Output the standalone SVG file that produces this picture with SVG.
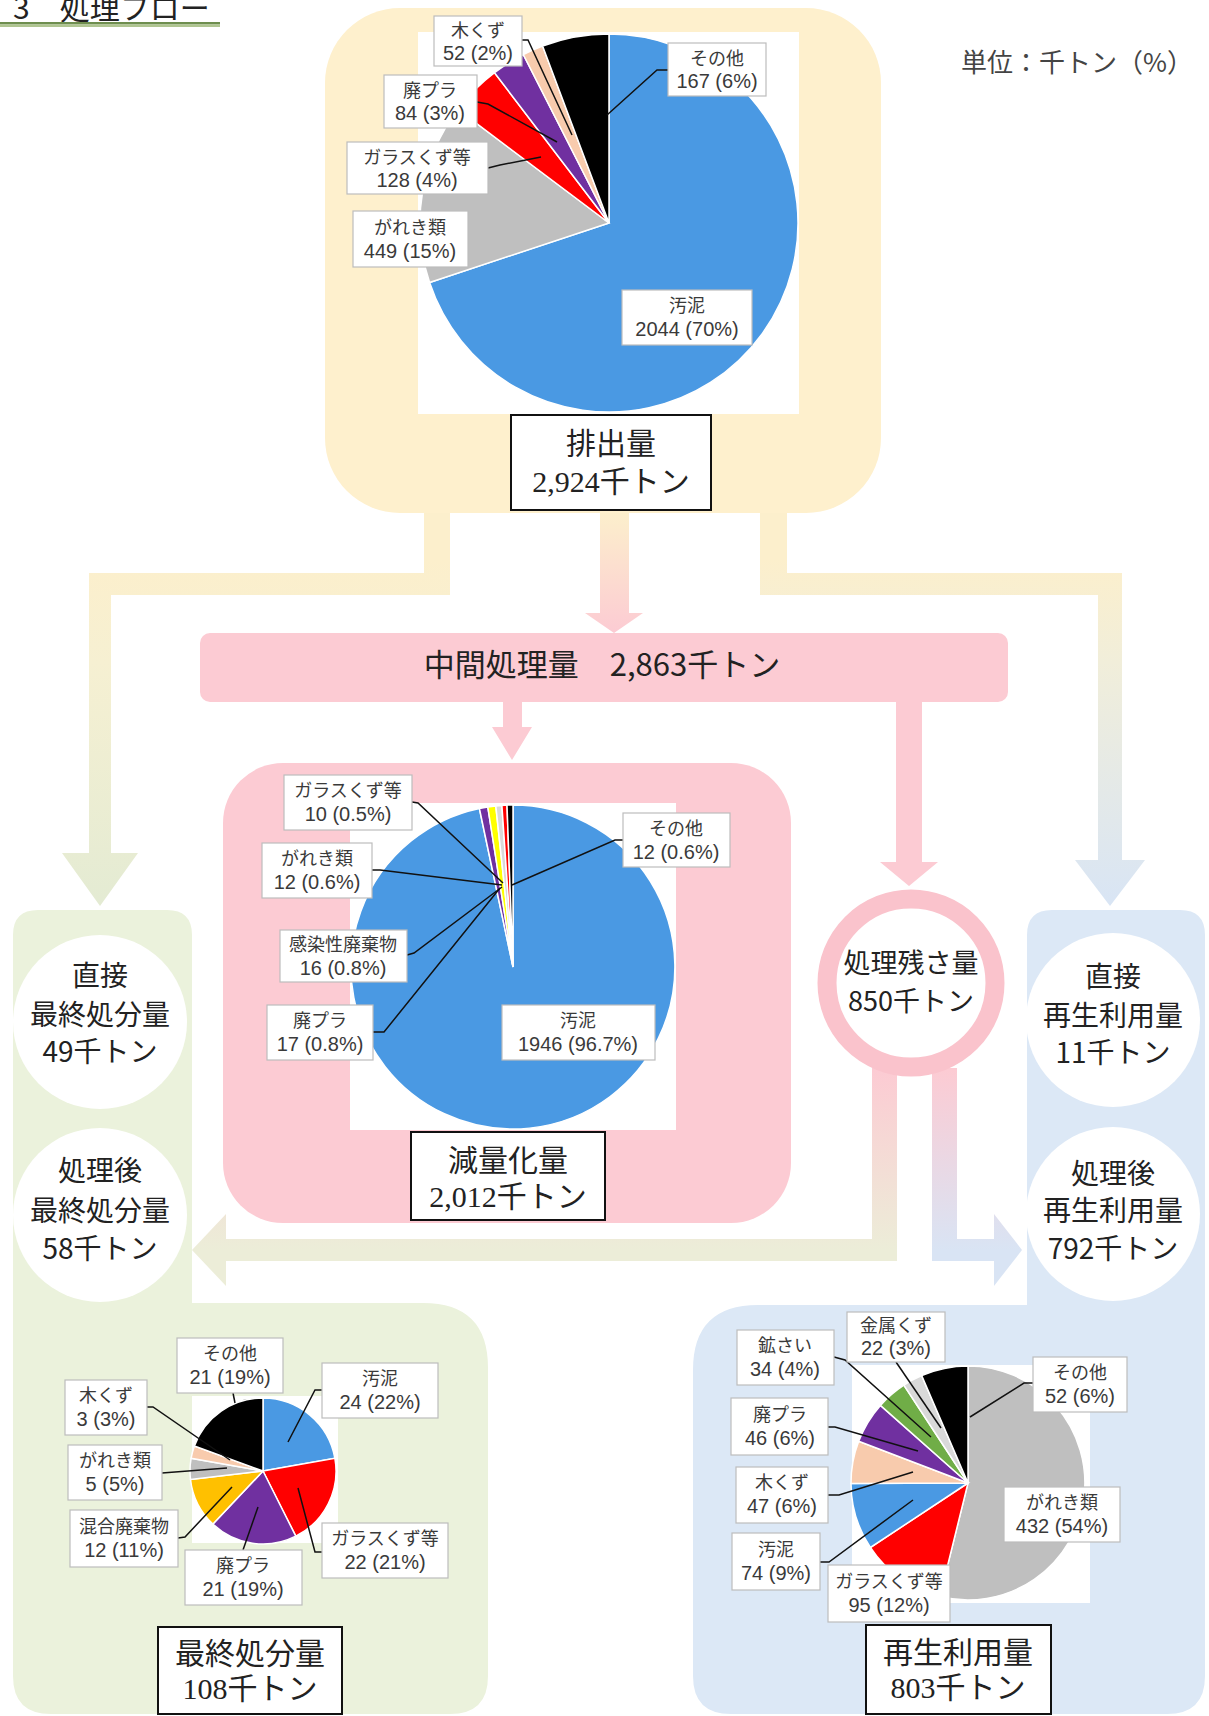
<svg xmlns="http://www.w3.org/2000/svg" width="1209" height="1716" viewBox="0 0 1209 1716">
<style>
.lb{fill:#fff;stroke:#BDBDBD;stroke-width:1.2}
.t1{font-family:"Liberation Sans","Noto Sans CJK JP",sans-serif;font-size:18px;fill:#3a3a3a;text-anchor:middle}
.t2{font-family:"Liberation Sans","Noto Sans CJK JP",sans-serif;font-size:20px;fill:#3a3a3a;text-anchor:middle}
.ld{fill:none;stroke:#111;stroke-width:1.5}
.sl{stroke:#fff;stroke-width:1.5}
.tb{fill:#fff;stroke:#111;stroke-width:2}
.hd{font-family:"Noto Sans CJK JP",sans-serif;font-size:30px;fill:#222;text-anchor:middle}
.hn{font-family:"Liberation Serif","Noto Sans CJK JP",serif;font-size:30px;fill:#222;text-anchor:middle}
.ct{font-family:"Noto Sans CJK JP",sans-serif;font-size:28px;fill:#222;text-anchor:middle}
.blue{fill:#4A99E3}.gray{fill:#BFBFBF}.red{fill:#FF0000}.pur{fill:#7030A0}.peach{fill:#F8CBAD}.blk{fill:#000}.gold{fill:#FFC000}.yel{fill:#FFFF00}.grn{fill:#70AD47}.lgray{fill:#D9D9D9}
.pink{fill:#FCCBD3}
</style>
<defs>
<linearGradient id="gL" gradientUnits="userSpaceOnUse" x1="0" y1="560" x2="0" y2="900"><stop offset="0" stop-color="#FCEFCC"/><stop offset="0.3" stop-color="#F6F0D2"/><stop offset="1" stop-color="#E4EBD3"/></linearGradient>
<linearGradient id="gR" gradientUnits="userSpaceOnUse" x1="0" y1="560" x2="0" y2="900"><stop offset="0" stop-color="#FCEFCC"/><stop offset="0.3" stop-color="#F1EEDA"/><stop offset="1" stop-color="#D9E5F4"/></linearGradient>
<linearGradient id="gC" gradientUnits="userSpaceOnUse" x1="0" y1="513" x2="0" y2="633"><stop offset="0" stop-color="#FCEFCC"/><stop offset="1" stop-color="#FCCBD3"/></linearGradient>
<linearGradient id="gLB" gradientUnits="userSpaceOnUse" x1="0" y1="1070" x2="0" y2="1250"><stop offset="0" stop-color="#FCCBD3"/><stop offset="1" stop-color="#ECEDD8"/></linearGradient>
<linearGradient id="gRB" gradientUnits="userSpaceOnUse" x1="0" y1="1070" x2="0" y2="1250"><stop offset="0" stop-color="#FCCBD3"/><stop offset="1" stop-color="#D9E4F4"/></linearGradient>
</defs>
<rect width="1209" height="1716" fill="#fff"/>

<g id="title">
<text x="13" y="19" style="font-family:'Noto Sans CJK JP',sans-serif;font-size:30px;fill:#222">3　処理フロー</text>
<rect x="0" y="22" width="220" height="2.5" fill="#6E8E4E"/>
<rect x="0" y="24.5" width="220" height="2.5" fill="#AFC590"/>
</g>
<g id="unit">
<text x="1193" y="72" style="font-family:'Noto Sans CJK JP',sans-serif;font-size:26px;fill:#444;text-anchor:end">単位：千トン（%）</text>
</g>

<g id="connectors">
<path d="M424,505 L450,505 L450,595 L111,595 L111,853 L138,853 L100,906 L62,853 L89,853 L89,573 L424,573 Z" fill="url(#gL)"/>
<path d="M760,505 L787,505 L787,573 L1122,573 L1122,860 L1145,860 L1110,906 L1075,860 L1098,860 L1098,595 L760,595 Z" fill="url(#gR)"/>
<path d="M600,505 L629,505 L629,613 L643,613 L614,633 L585,613 L600,613 Z" fill="url(#gC)"/>
<path d="M503,700 L522,700 L522,727 L532,727 L512,760 L492,727 L503,727 Z" class="pink"/>
<path d="M896,700 L922,700 L922,862 L938,862 L909,886 L880,862 L896,862 Z" class="pink"/>
<path d="M872,1068 L897,1068 L897,1261 L226,1261 L226,1286 L192,1250 L226,1214 L226,1239 L872,1239 Z" fill="url(#gLB)"/>
<path d="M932,1068 L957,1068 L957,1239 L994,1239 L994,1214 L1022,1250 L994,1286 L994,1261 L932,1261 Z" fill="url(#gRB)"/>
</g>

<g id="node-haishutsu">
<rect x="325" y="8" width="556" height="505" rx="75" fill="#FEF0CD"/>
<rect x="418" y="32" width="381" height="382" fill="#fff"/>
<path class="blue sl" d="M609,223 L609,34 A189,189 0 1 1 429.6,282.5 Z"/>
<path class="gray sl" d="M609,223 L429.6,282.5 A189,189 0 0 1 457.9,109.4 Z"/>
<path class="red sl" d="M609,223 L457.9,109.4 A189,189 0 0 1 494.5,72.7 Z"/>
<path class="pur sl" d="M609,223 L494.5,72.7 A189,189 0 0 1 523.3,54.5 Z"/>
<path class="peach sl" d="M609,223 L523.3,54.5 A189,189 0 0 1 542.6,46 Z"/>
<path class="blk sl" d="M609,223 L542.6,46 A189,189 0 0 1 609,34 Z"/>
<polyline class="ld" points="522,40 528,40 572,135"/>
<polyline class="ld" points="477,102 488,104 557,142"/>
<polyline class="ld" points="488,168 500,165 541,157"/>
<polyline class="ld" points="668,70 657,70 607,115"/>
<rect class="lb" x="434" y="16" width="88" height="50"/><text class="t1" x="478" y="37">木くず</text><text class="t2" x="478" y="60">52 (2%)</text>
<rect class="lb" x="384" y="75" width="93" height="53"/><text class="t1" x="430" y="97">廃プラ</text><text class="t2" x="430" y="120">84 (3%)</text>
<rect class="lb" x="347" y="142" width="141" height="52"/><text class="t1" x="417" y="164">ガラスくず等</text><text class="t2" x="417" y="187">128 (4%)</text>
<rect class="lb" x="353" y="211" width="115" height="56"/><text class="t1" x="410" y="234">がれき類</text><text class="t2" x="410" y="258">449 (15%)</text>
<rect class="lb" x="668" y="43" width="98" height="53"/><text class="t1" x="717" y="65">その他</text><text class="t2" x="717" y="88">167 (6%)</text>
<rect class="lb" x="622" y="290" width="130" height="55"/><text class="t1" x="687" y="312">汚泥</text><text class="t2" x="687" y="336">2044 (70%)</text>
<rect class="tb" x="511" y="415" width="200" height="95"/>
<text class="hd" x="611" y="454">排出量</text>
<text class="hn" x="611" y="492">2,924千トン</text>
</g>

<g id="node-chukan">
<rect x="200" y="633" width="808" height="69" rx="10" class="pink"/>
<text x="602" y="676" style="font-family:'Noto Sans CJK JP',sans-serif;font-size:31px;fill:#222;text-anchor:middle">中間処理量　2,863千トン</text>
</g>

<g id="node-genryo">
<rect x="223" y="763" width="568" height="460" rx="60" class="pink"/>
<rect x="350" y="803" width="326" height="327" fill="#fff"/>
<path class="blue sl" d="M513,967 L513,805 A162,162 0 1 1 479.4,808.5 Z"/>
<path class="pur sl" d="M513,967 L479.4,808.5 A162,162 0 0 1 487.8,807 Z"/>
<path class="yel sl" d="M513,967 L487.8,807 A162,162 0 0 1 495.8,805.9 Z"/>
<path class="lgray sl" d="M513,967 L495.8,805.9 A162,162 0 0 1 501.9,805.4 Z"/>
<path class="red sl" d="M513,967 L501.9,805.4 A162,162 0 0 1 507,805.1 Z"/>
<path class="blk sl" d="M513,967 L507,805.1 A162,162 0 0 1 513,805 Z"/>
<polyline class="ld" points="412,802 418,803 503,883"/>
<polyline class="ld" points="623,840 615,840 512,885"/>
<polyline class="ld" points="372,870 380,870 502,885"/>
<polyline class="ld" points="407,955 414,953 502,887"/>
<polyline class="ld" points="373,1032 384,1032 500,888"/>
<rect class="lb" x="284" y="775" width="128" height="55"/><text class="t1" x="348" y="797">ガラスくず等</text><text class="t2" x="348" y="821">10 (0.5%)</text>
<rect class="lb" x="623" y="813" width="107" height="54"/><text class="t1" x="676" y="835">その他</text><text class="t2" x="676" y="859">12 (0.6%)</text>
<rect class="lb" x="262" y="843" width="110" height="55"/><text class="t1" x="317" y="865">がれき類</text><text class="t2" x="317" y="889">12 (0.6%)</text>
<rect class="lb" x="280" y="930" width="127" height="52"/><text class="t1" x="343" y="951">感染性廃棄物</text><text class="t2" x="343" y="975">16 (0.8%)</text>
<rect class="lb" x="267" y="1005" width="106" height="55"/><text class="t1" x="320" y="1027">廃プラ</text><text class="t2" x="320" y="1051">17 (0.8%)</text>
<rect class="lb" x="502" y="1005" width="153" height="55"/><text class="t1" x="578" y="1027">汚泥</text><text class="t2" x="578" y="1051">1946 (96.7%)</text>
<rect class="tb" x="411" y="1132" width="194" height="88"/>
<text class="hd" x="508" y="1171">減量化量</text>
<text class="hn" x="508" y="1207">2,012千トン</text>
</g>

<g id="node-zansa">
<circle cx="911" cy="983" r="84" fill="#fff" stroke="#FAC3CC" stroke-width="19"/>
<text x="911" y="973" style="font-family:'Noto Sans CJK JP',sans-serif;font-size:27px;fill:#222;text-anchor:middle">処理残さ量</text>
<text x="911" y="1011" style="font-family:'Noto Sans CJK JP',sans-serif;font-size:27px;fill:#222;text-anchor:middle">850千トン</text>
</g>

<g id="node-saishu">
<path d="M13,935 Q13,910 38,910 L167,910 Q192,910 192,935 L192,1303 L423,1303 Q488,1303 488,1368 L488,1676 Q488,1714 450,1714 L51,1714 Q13,1714 13,1676 Z" fill="#EBF2DC"/>
<circle cx="100" cy="1022" r="87" fill="#fff"/>
<text class="ct" x="100" y="986">直接</text>
<text class="ct" x="100" y="1025">最終処分量</text>
<text class="ct" x="100" y="1062">49千トン</text>
<circle cx="100" cy="1215" r="87" fill="#fff"/>
<text class="ct" x="100" y="1181">処理後</text>
<text class="ct" x="100" y="1221">最終処分量</text>
<text class="ct" x="100" y="1259">58千トン</text>
<rect x="192" y="1396" width="146" height="147" fill="#fff"/>
<path class="blue sl" d="M263,1471 L263,1398 A73,73 0 0 1 334.9,1458.3 Z"/>
<path class="red sl" d="M263,1471 L334.9,1458.3 A73,73 0 0 1 295.8,1536.2 Z"/>
<path class="pur sl" d="M263,1471 L295.8,1536.2 A73,73 0 0 1 212.9,1524.1 Z"/>
<path class="gold sl" d="M263,1471 L212.9,1524.1 A73,73 0 0 1 190.5,1479.5 Z"/>
<path class="gray sl" d="M263,1471 L190.5,1479.5 A73,73 0 0 1 191.1,1458.3 Z"/>
<path class="peach sl" d="M263,1471 L191.1,1458.3 A73,73 0 0 1 194.4,1446 Z"/>
<path class="blk sl" d="M263,1471 L194.4,1446 A73,73 0 0 1 263,1398 Z"/>
<polyline class="ld" points="233,1393 235,1403"/>
<polyline class="ld" points="322,1390 315,1390 288,1442"/>
<polyline class="ld" points="147,1407 153,1407 230,1460"/>
<polyline class="ld" points="162,1473 227,1468"/>
<polyline class="ld" points="178,1538 185,1537 232,1487"/>
<polyline class="ld" points="243,1550 258,1507"/>
<polyline class="ld" points="322,1552 315,1552 298,1488"/>
<rect class="lb" x="177" y="1338" width="106" height="55"/><text class="t1" x="230" y="1360">その他</text><text class="t2" x="230" y="1384">21 (19%)</text>
<rect class="lb" x="322" y="1363" width="116" height="55"/><text class="t1" x="380" y="1385">汚泥</text><text class="t2" x="380" y="1409">24 (22%)</text>
<rect class="lb" x="65" y="1380" width="82" height="55"/><text class="t1" x="106" y="1402">木くず</text><text class="t2" x="106" y="1426">3 (3%)</text>
<rect class="lb" x="68" y="1445" width="94" height="55"/><text class="t1" x="115" y="1467">がれき類</text><text class="t2" x="115" y="1491">5 (5%)</text>
<rect class="lb" x="70" y="1510" width="108" height="57"/><text class="t1" x="124" y="1533">混合廃棄物</text><text class="t2" x="124" y="1557">12 (11%)</text>
<rect class="lb" x="185" y="1550" width="117" height="55"/><text class="t1" x="243" y="1572">廃プラ</text><text class="t2" x="243" y="1596">21 (19%)</text>
<rect class="lb" x="322" y="1523" width="126" height="55"/><text class="t1" x="385" y="1545">ガラスくず等</text><text class="t2" x="385" y="1569">22 (21%)</text>
<rect class="tb" x="158" y="1627" width="184" height="87"/>
<text class="hd" x="250" y="1664">最終処分量</text>
<text class="hn" x="250" y="1699">108千トン</text>
</g>

<g id="node-saisei">
<path d="M1027,935 Q1027,910 1052,910 L1180,910 Q1205,910 1205,935 L1205,1676 Q1205,1714 1167,1714 L731,1714 Q693,1714 693,1676 L693,1370 Q693,1305 758,1305 L1027,1305 Z" fill="#DCE8F6"/>
<circle cx="1113" cy="1020" r="87" fill="#fff"/>
<text class="ct" x="1113" y="987">直接</text>
<text class="ct" x="1113" y="1026">再生利用量</text>
<text class="ct" x="1113" y="1063">11千トン</text>
<circle cx="1113" cy="1214" r="87" fill="#fff"/>
<text class="ct" x="1113" y="1184">処理後</text>
<text class="ct" x="1113" y="1221">再生利用量</text>
<text class="ct" x="1113" y="1259">792千トン</text>
<rect x="852" y="1365" width="238" height="238" fill="#fff"/>
<path class="gray sl" d="M968,1483 L968,1366 A117,117 0 1 1 939.9,1596.6 Z"/>
<path class="red sl" d="M968,1483 L939.9,1596.6 A117,117 0 0 1 870.4,1547.5 Z"/>
<path class="blue sl" d="M968,1483 L870.4,1547.5 A117,117 0 0 1 851,1483.4 Z"/>
<path class="peach sl" d="M968,1483 L851,1483.4 A117,117 0 0 1 858.7,1441.3 Z"/>
<path class="pur sl" d="M968,1483 L858.7,1441.3 A117,117 0 0 1 880.4,1405.4 Z"/>
<path class="grn sl" d="M968,1483 L880.4,1405.4 A117,117 0 0 1 903.9,1385.1 Z"/>
<path class="lgray sl" d="M968,1483 L903.9,1385.1 A117,117 0 0 1 921.7,1375.6 Z"/>
<path class="blk sl" d="M968,1483 L921.7,1375.6 A117,117 0 0 1 968,1366 Z"/>
<polyline class="ld" points="834,1357 845,1360 931,1437"/>
<polyline class="ld" points="896,1362 941,1428"/>
<polyline class="ld" points="1033,1383 1024,1383 970,1417"/>
<polyline class="ld" points="828,1427 835,1427 918,1451"/>
<polyline class="ld" points="828,1495 839,1495 913,1472"/>
<polyline class="ld" points="820,1562 829,1562 913,1500"/>
<rect class="lb" x="737" y="1330" width="97" height="55"/><text class="t1" x="785" y="1352">鉱さい</text><text class="t2" x="785" y="1376">34 (4%)</text>
<rect class="lb" x="847" y="1312" width="98" height="50"/><text class="t1" x="896" y="1332">金属くず</text><text class="t2" x="896" y="1355">22 (3%)</text>
<rect class="lb" x="1033" y="1357" width="94" height="55"/><text class="t1" x="1080" y="1379">その他</text><text class="t2" x="1080" y="1403">52 (6%)</text>
<rect class="lb" x="731" y="1398" width="97" height="57"/><text class="t1" x="780" y="1421">廃プラ</text><text class="t2" x="780" y="1445">46 (6%)</text>
<rect class="lb" x="736" y="1467" width="92" height="56"/><text class="t1" x="782" y="1489">木くず</text><text class="t2" x="782" y="1513">47 (6%)</text>
<rect class="lb" x="732" y="1533" width="88" height="57"/><text class="t1" x="776" y="1556">汚泥</text><text class="t2" x="776" y="1580">74 (9%)</text>
<rect class="lb" x="828" y="1565" width="122" height="57"/><text class="t1" x="889" y="1588">ガラスくず等</text><text class="t2" x="889" y="1612">95 (12%)</text>
<rect class="lb" x="1004" y="1487" width="116" height="55"/><text class="t1" x="1062" y="1509">がれき類</text><text class="t2" x="1062" y="1533">432 (54%)</text>
<rect class="tb" x="866" y="1625" width="185" height="89"/>
<text class="hd" x="958" y="1663">再生利用量</text>
<text class="hn" x="958" y="1698">803千トン</text>
</g>
</svg>
